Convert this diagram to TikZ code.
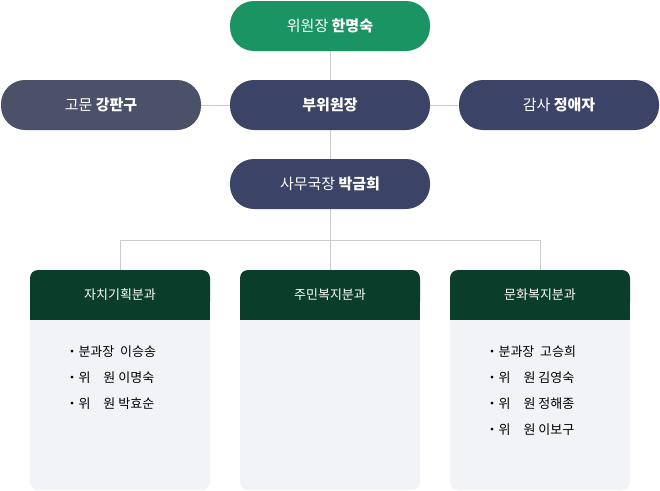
\documentclass[tikz,border=0pt]{standalone}
\usepackage{fontspec}
\setmainfont{Noto Sans CJK KR}
\usetikzlibrary{positioning}
\definecolor{chairgreen}{HTML}{1A9463}
\definecolor{navy}{HTML}{3B4466}
\definecolor{slate}{HTML}{4B5169}
\definecolor{deepgreen}{HTML}{0A3D2A}
\definecolor{boxbg}{HTML}{F2F3F7}
\definecolor{linegray}{HTML}{CCCCCC}
\tikzset{
    pill/.style={rounded corners=24pt, minimum width=200pt, minimum height=50pt,
        text=white, font=\fontsize{15}{18}\selectfont, inner sep=0pt},
    link/.style={linegray, line width=0.8pt},
    head/.style={fill=deepgreen, text=white, font=\fontsize{13}{16}\selectfont},
    member/.style={font=\fontsize{13}{26}\selectfont, align=left, anchor=north west},
}
\begin{document}
\begin{tikzpicture}[x=1pt, y=-1pt]
    \useasboundingbox (0,0) rectangle (660,490);
    % connectors
    \coordinate (T) at (330,240);
    \coordinate (L) at (120,240);
    \coordinate (R) at (540,240);
    \draw[link] (330,26) -- (T);
    \draw[link] (100,105) -- (560,105);
    \draw[link] (L) -- (R);
    \draw[link] (L) -- (120,270);
    \draw[link] (R) -- (540,270);
    \draw[link] (T) -- (330,270);
    % leaders
    \node[pill, fill=chairgreen] (chair) at (330,26) {위원장 \textbf{한명숙}};
    \node[pill, fill=slate] (advisor) at (101,105) {고문 \textbf{강판구}};
    \node[pill, fill=navy] (vice) at (330,105) {\textbf{부위원장}};
    \node[pill, fill=navy] (auditor) at (559,105) {감사 \textbf{정애자}};
    \node[pill, fill=navy] (office) at (330,184) {사무국장 \textbf{박금희}};
    % committees
    \foreach \x/\name/\title in {30/self/자치기획분과, 240/welfare/주민복지분과, 450/culture/문화복지분과} {
        \fill[boxbg, rounded corners=8pt] (\x,300) rectangle ++(180,190);
        \fill[deepgreen, rounded corners=8pt] (\x,270) rectangle ++(180,40);
        \fill[deepgreen] (\x,300) rectangle ++(180,20);
        \node[text=white, font=\fontsize{13}{16}\selectfont] (\name) at (\x+90,295) {\title};
    }
    \node[member] (selflist) at (62,342) {・분과장\ \ 이승송\\・위\quad 원\ 이명숙\\・위\quad 원\ 박효순};
    \node[member] (culturelist) at (482,342) {・분과장\ \ 고승희\\・위\quad 원\ 김영숙\\・위\quad 원\ 정해종\\・위\quad 원\ 이보구};
\end{tikzpicture}
\end{document}
